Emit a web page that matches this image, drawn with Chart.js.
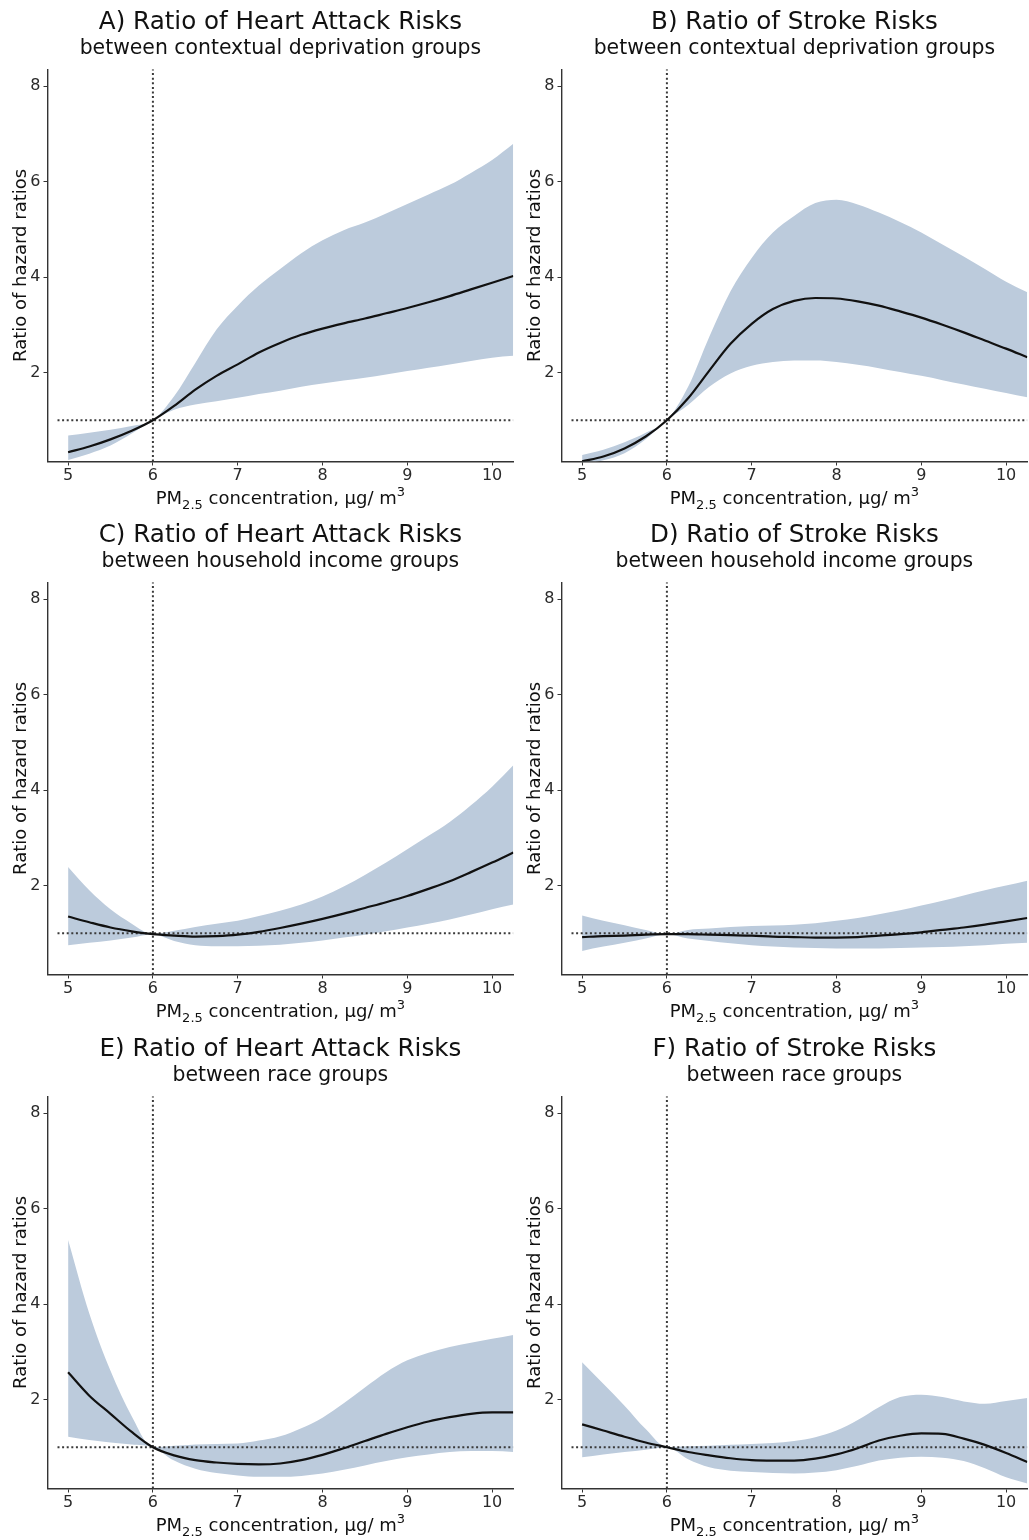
<!DOCTYPE html>
<html>
<head>
<meta charset="utf-8">
<script src="https://cdn.jsdelivr.net/npm/chart.js@4.4.1/dist/chart.umd.min.js"></script>
<style>
  html, body { margin: 0; padding: 0; background: #ffffff; }
  #wrap { position: relative; width: 1029px; height: 1540px; background: #fff; }
  .cell { position: absolute; width: 514px; height: 513px; }
  canvas { display: block; }
</style>
</head>
<body>
<div id="wrap">
  <div class="cell" style="left:0px;top:0px"><canvas id="cA" width="514" height="513"></canvas></div>
  <div class="cell" style="left:514px;top:0px"><canvas id="cB" width="514" height="513"></canvas></div>
  <div class="cell" style="left:0px;top:513px"><canvas id="cC" width="514" height="513"></canvas></div>
  <div class="cell" style="left:514px;top:513px"><canvas id="cD" width="514" height="513"></canvas></div>
  <div class="cell" style="left:0px;top:1027px"><canvas id="cE" width="514" height="513"></canvas></div>
  <div class="cell" style="left:514px;top:1027px"><canvas id="cF" width="514" height="513"></canvas></div>
</div>
<script>
// ---------------- DATA ----------------
const pm25 = [5, 5.25, 5.5, 5.75, 6, 6.25, 6.5, 6.75, 7, 7.25, 7.5, 7.75, 8, 8.25, 8.5, 8.75, 9, 9.25, 9.5, 9.75, 10, 10.25];
const xTicks = [5, 6, 7, 8, 9, 10];
const yTicks = [2, 4, 6, 8];
const xMin = 4.757, xMax = 10.25;
const yMin = 0.136, yMax = 8.35;
const refX = 6, refY = 1;
const refLineStart = 4.875;

const titles = [
  "A) Ratio of Heart Attack Risks",
  "B) Ratio of Stroke Risks",
  "C) Ratio of Heart Attack Risks",
  "D) Ratio of Stroke Risks",
  "E) Ratio of Heart Attack Risks",
  "F) Ratio of Stroke Risks"
];
const subtitles = [
  "between contextual deprivation groups",
  "between contextual deprivation groups",
  "between household income groups",
  "between household income groups",
  "between race groups",
  "between race groups"
];
const yAxisTitle = "Ratio of hazard ratios";

// Panel A: heart attack, contextual deprivation
const fitA   = [0.33, 0.45, 0.60, 0.78, 1.00, 1.30, 1.64, 1.93, 2.17, 2.42, 2.62, 2.79, 2.92, 3.03, 3.13, 3.24, 3.35, 3.47, 3.60, 3.74, 3.88, 4.02];
const upperA = [0.68, 0.74, 0.80, 0.88, 1.00, 1.50, 2.20, 2.90, 3.40, 3.82, 4.17, 4.50, 4.77, 4.98, 5.14, 5.33, 5.53, 5.73, 5.93, 6.18, 6.45, 6.79];
const lowerA = [0.17, 0.30, 0.47, 0.72, 1.00, 1.22, 1.33, 1.40, 1.47, 1.55, 1.62, 1.70, 1.77, 1.83, 1.89, 1.96, 2.03, 2.10, 2.17, 2.24, 2.31, 2.35];
// Panel B: stroke, contextual deprivation
const fitB   = [0.14, 0.24, 0.41, 0.66, 1.00, 1.46, 2.04, 2.60, 3.02, 3.33, 3.50, 3.56, 3.55, 3.49, 3.40, 3.28, 3.15, 3.00, 2.84, 2.67, 2.50, 2.32];
const upperB = [0.27, 0.38, 0.54, 0.74, 1.00, 1.70, 2.75, 3.70, 4.40, 4.93, 5.28, 5.55, 5.62, 5.52, 5.35, 5.15, 4.93, 4.68, 4.43, 4.17, 3.90, 3.68];
const lowerB = [0.08, 0.16, 0.31, 0.60, 1.00, 1.32, 1.70, 1.98, 2.14, 2.22, 2.25, 2.25, 2.22, 2.16, 2.09, 2.01, 1.93, 1.84, 1.75, 1.66, 1.57, 1.48];
// Panel C: heart attack, household income
const fitC   = [1.35, 1.23, 1.12, 1.04, 0.98, 0.95, 0.93, 0.94, 0.97, 1.03, 1.11, 1.20, 1.30, 1.41, 1.53, 1.65, 1.78, 1.93, 2.09, 2.28, 2.48, 2.69];
const upperC = [2.39, 1.90, 1.50, 1.20, 0.98, 1.05, 1.13, 1.20, 1.26, 1.36, 1.47, 1.60, 1.77, 1.98, 2.22, 2.48, 2.76, 3.04, 3.33, 3.68, 4.07, 4.52];
const lowerC = [0.75, 0.80, 0.85, 0.91, 0.98, 0.84, 0.75, 0.73, 0.73, 0.74, 0.76, 0.80, 0.85, 0.91, 0.97, 1.04, 1.12, 1.20, 1.29, 1.39, 1.50, 1.60];
// Panel D: stroke, household income
const fitD   = [0.92, 0.94, 0.95, 0.97, 0.98, 0.98, 0.97, 0.96, 0.95, 0.93, 0.92, 0.91, 0.91, 0.92, 0.95, 0.98, 1.02, 1.07, 1.12, 1.18, 1.25, 1.32];
const upperD = [1.37, 1.26, 1.17, 1.07, 0.98, 1.07, 1.10, 1.13, 1.15, 1.16, 1.18, 1.21, 1.26, 1.32, 1.40, 1.48, 1.58, 1.68, 1.79, 1.90, 2.00, 2.10];
const lowerD = [0.63, 0.72, 0.80, 0.89, 0.98, 0.89, 0.84, 0.79, 0.75, 0.72, 0.70, 0.69, 0.68, 0.68, 0.68, 0.69, 0.70, 0.71, 0.73, 0.75, 0.78, 0.80];
// Panel E: heart attack, race
const fitE   = [2.57, 2.08, 1.70, 1.32, 1.00, 0.83, 0.73, 0.68, 0.65, 0.64, 0.66, 0.73, 0.84, 0.98, 1.13, 1.28, 1.42, 1.54, 1.63, 1.70, 1.73, 1.73];
const upperE = [5.34, 3.80, 2.60, 1.65, 1.00, 1.03, 1.06, 1.07, 1.08, 1.14, 1.23, 1.40, 1.62, 1.92, 2.25, 2.57, 2.82, 2.98, 3.10, 3.19, 3.27, 3.35];
const lowerE = [1.22, 1.15, 1.10, 1.06, 1.00, 0.72, 0.55, 0.46, 0.41, 0.38, 0.38, 0.40, 0.45, 0.53, 0.62, 0.71, 0.79, 0.85, 0.90, 0.92, 0.92, 0.90];
// Panel F: stroke, race
const fitF   = [1.48, 1.35, 1.22, 1.10, 1.00, 0.90, 0.83, 0.77, 0.73, 0.72, 0.72, 0.76, 0.85, 0.98, 1.14, 1.24, 1.29, 1.28, 1.18, 1.05, 0.88, 0.69];
const upperF = [2.78, 2.33, 1.87, 1.38, 1.00, 1.02, 1.03, 1.05, 1.07, 1.09, 1.13, 1.21, 1.35, 1.57, 1.84, 2.05, 2.10, 2.05, 1.96, 1.91, 1.97, 2.03];
const lowerF = [0.79, 0.85, 0.90, 0.95, 1.00, 0.75, 0.58, 0.51, 0.48, 0.46, 0.45, 0.47, 0.52, 0.61, 0.72, 0.78, 0.80, 0.78, 0.71, 0.56, 0.37, 0.24];

// ---------------- STYLE ----------------
const FONT = "'DejaVu Sans', Verdana, sans-serif";
const BAND = '#bccbdc';
const LINE = '#111111';
const REF = '#3a3a3a';
const AXIS = '#333333';

const panelCanvases = ['cA', 'cB', 'cC', 'cD', 'cE', 'cF'];
const panelData = [
  [fitA, upperA, lowerA], [fitB, upperB, lowerB], [fitC, upperC, lowerC],
  [fitD, upperD, lowerD], [fitE, upperE, lowerE], [fitF, upperF, lowerF]
];

const toXY = (arr) => arr.map((v, i) => ({ x: pm25[i], y: v }));

const textPlugin = {
  id: 'panelText',
  afterDraw(chart, args, opts) {
    const ctx = chart.ctx;
    const ca = chart.chartArea;
    const cx = (ca.left + ca.right) / 2;
    ctx.save();
    ctx.fillStyle = '#111';
    ctx.textAlign = 'center';
    ctx.textBaseline = 'alphabetic';
    ctx.font = '24.6px ' + FONT;
    ctx.fillText(opts.title, cx, 28.5);
    ctx.font = '20.4px ' + FONT;
    ctx.fillText(opts.subtitle, cx, 54);

    // y-axis title (rotated)
    ctx.save();
    ctx.translate(25.5, (ca.top + ca.bottom) / 2);
    ctx.rotate(-Math.PI / 2);
    ctx.font = '18px ' + FONT;
    ctx.textAlign = 'center';
    ctx.fillText(yAxisTitle, 0, 0);
    ctx.restore();

    // x-axis title with subscript / superscript
    const parts = [
      { t: 'PM', size: 18, dy: 0 },
      { t: '2.5', size: 13, dy: 5 },
      { t: ' concentration, \u00b5g/ m', size: 18, dy: 0 },
      { t: '3', size: 13, dy: -8 }
    ];
    let total = 0;
    parts.forEach(p => { ctx.font = p.size + 'px ' + FONT; p.w = ctx.measureText(p.t).width; total += p.w; });
    let x = cx - total / 2;
    const base = ca.bottom + 42.5;
    ctx.textAlign = 'left';
    parts.forEach(p => {
      ctx.font = p.size + 'px ' + FONT;
      ctx.fillText(p.t, x, base + p.dy);
      x += p.w;
    });
    ctx.restore();
  }
};

panelCanvases.forEach((id, k) => {
  const [fit, upper, lower] = panelData[k];
  new Chart(document.getElementById(id), {
    type: 'line',
    data: {
      datasets: [
        { label: 'upper', data: toXY(upper), borderWidth: 0, borderColor: 'rgba(0,0,0,0)',
          backgroundColor: BAND, fill: '+1', pointRadius: 0, cubicInterpolationMode: 'monotone', order: 3 },
        { label: 'lower', data: toXY(lower), borderWidth: 0, borderColor: 'rgba(0,0,0,0)',
          backgroundColor: BAND, fill: false, pointRadius: 0, cubicInterpolationMode: 'monotone', order: 3 },
        { label: 'refV', data: [{ x: refX, y: yMin }, { x: refX, y: yMax }], borderColor: REF, borderWidth: 2,
          borderDash: [2, 2.6], pointRadius: 0, fill: false, order: 2 },
        { label: 'refH', data: [{ x: refLineStart, y: refY }, { x: xMax, y: refY }], borderColor: REF, borderWidth: 2,
          borderDash: [2, 2.6], pointRadius: 0, fill: false, order: 2 },
        { label: 'fit', data: toXY(fit), borderColor: LINE, borderWidth: 2.2, pointRadius: 0, fill: false,
          cubicInterpolationMode: 'monotone', order: 1 }
      ]
    },
    options: {
      responsive: false,
      animation: false,
      events: [],
      layout: { padding: { top: 69.3, right: 0.7, left: 0, bottom: 0 } },
      plugins: {
        legend: { display: false },
        title: { display: false },
        tooltip: { enabled: false },
        panelText: { title: titles[k], subtitle: subtitles[k] }
      },
      scales: {
        x: {
          type: 'linear', min: xMin, max: xMax,
          afterFit(s) { s.height = 51.5; },
          afterBuildTicks(s) { s.ticks = xTicks.map(v => ({ value: v })); },
          grid: { display: true, drawOnChartArea: false, drawTicks: true, tickLength: 4, color: AXIS, lineWidth: 1 },
          border: { display: true, color: AXIS, width: 1.4 },
          ticks: { color: '#2a2a2a', font: { family: FONT, size: 16 }, padding: 1, maxRotation: 0, autoSkip: false }
        },
        y: {
          type: 'linear', min: yMin, max: yMax,
          afterFit(s) { s.width = 47.5; },
          afterBuildTicks(s) { s.ticks = yTicks.map(v => ({ value: v })); },
          grid: { display: true, drawOnChartArea: false, drawTicks: true, tickLength: 4, color: AXIS, lineWidth: 1 },
          border: { display: true, color: AXIS, width: 1.4 },
          ticks: { color: '#2a2a2a', font: { family: FONT, size: 16 }, padding: 3 }
        }
      }
    },
    plugins: [textPlugin]
  });
});
</script>
</body>
</html>
